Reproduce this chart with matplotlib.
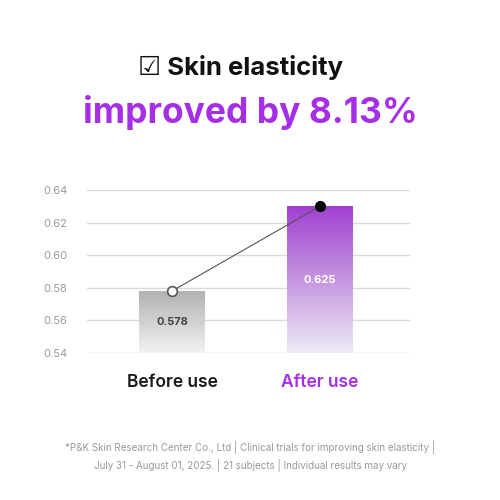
import numpy as np
import matplotlib
matplotlib.use("Agg")
import matplotlib.pyplot as plt
from matplotlib.colors import LinearSegmentedColormap

categories = ["Before use", "After use"]
bar_heights = [0.578, 0.630]  # as drawn in the picture
value_labels = ["0.578", "0.625"]
yticks = [0.54, 0.56, 0.58, 0.60, 0.62, 0.64]

purple = "#a52ee6"
fonts = ["Inter", "DejaVu Sans"]
plt.rcParams["font.family"] = fonts

fig = plt.figure(figsize=(5, 5), dpi=100)
ax = fig.add_axes([0.174, 0.294, 0.646, 0.326])

ymin, ymax = 0.54, 0.64
x = np.arange(len(categories))
w = 0.44

# gradient bars
grads = [
    LinearSegmentedColormap.from_list("g", ["#f2f2f2", "#b2b2b2"]),
    LinearSegmentedColormap.from_list("p", ["#eeebf7", "#c596e0", "#a040d2"]),
]
grad = np.linspace(0, 1, 256).reshape(-1, 1)
for xi, h, cm in zip(x, bar_heights, grads):
    ax.imshow(grad, extent=[xi - w / 2, xi + w / 2, ymin, h], origin="lower",
              aspect="auto", cmap=cm, zorder=2)

# connecting line + markers
ax.plot(x, bar_heights, color="#555555", lw=0.8, zorder=3)
ax.plot(x[0], bar_heights[0], "o", ms=7, mfc="white", mec="#555555", mew=1.2, zorder=4)
ax.plot(x[1], bar_heights[1], "o", ms=7, mfc="black", mec="black", zorder=4)

# value labels in the middle of the bars
label_colors = ["#444444", "white"]
for xi, h, lab, c in zip(x, bar_heights, value_labels, label_colors):
    ax.text(xi, (ymin + h) / 2, lab, ha="center", va="center", fontsize=8,
            fontweight="bold", color=c, zorder=5)

ax.set_xlim(-0.574, 1.608)
ax.set_ylim(ymin, ymax)
ax.set_yticks(yticks)
ax.set_yticklabels([f"{t:.2f}" for t in yticks], color="#999999", fontsize=8)
ax.yaxis.grid(True, color="#d9d9d9", lw=1)
ax.set_axisbelow(True)
ax.tick_params(axis="y", length=0, pad=14)
ax.set_xticks(x)
ax.set_xticklabels(categories, fontsize=12.5, fontweight="semibold")
ax.tick_params(axis="x", length=0, pad=15)
for lab, c in zip(ax.get_xticklabels(), ["#1a1a1a", purple]):
    lab.set_color(c)
for s in ax.spines.values():
    s.set_visible(False)

# headings
fig.text(0.482, 0.864, "\u2611 Skin elasticity", ha="center", va="center",
         fontsize=18.5, fontweight="bold", color="#111111")
fig.text(0.5, 0.776, "improved by 8.13%", ha="center", va="center",
         fontsize=25.5, fontweight="bold", color=purple)

# footnote
fig.text(0.5, 0.088, "*P&K Skin Research Center Co., Ltd | Clinical trials for improving skin elasticity |\n"
         "July 31 - August 01, 2025. | 21 subjects | Individual results may vary",
         ha="center", va="center", fontsize=7.1, color="#999999", linespacing=1.5)

fig.savefig("out.png", dpi=100)
